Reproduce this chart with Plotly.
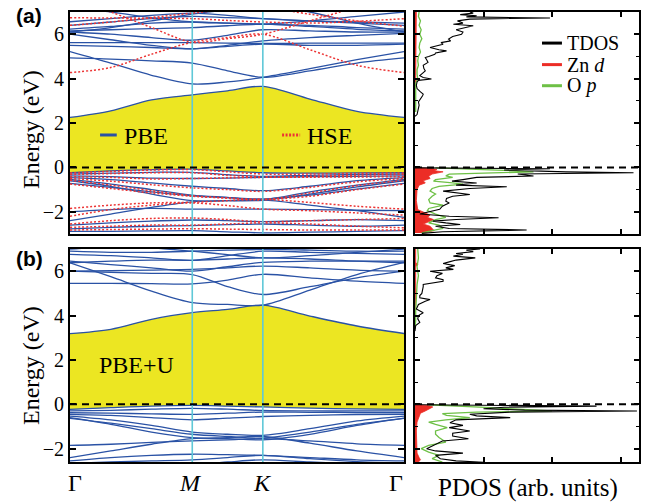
import plotly.graph_objects as go

# ---------------- data ----------------
# k-path distances: Γ, 1/3 ΓM, 2/3 ΓM, M, mid MK, K, 1/3 KΓ, 2/3 KΓ, Γ
kpath = [0.0, 0.1925, 0.3849, 0.5774, 0.7440, 0.9107, 1.1329, 1.3552, 1.5774]
k_M = 0.5774
k_K = 0.9107
k_end = 1.5774

# (a) PBE conduction bands (eV)
pbe_cb_a = [
    [2.25, 2.55, 3.04, 3.27, 3.45, 3.65, 3.08, 2.52, 2.25],
    [5.22, 4.70, 4.15, 3.76, 3.85, 4.06, 4.45, 4.85, 5.22],
    [4.93, 4.88, 4.80, 4.70, 4.35, 4.06, 4.35, 4.70, 4.93],
    [5.50, 5.45, 5.40, 5.34, 5.45, 5.55, 5.50, 5.50, 5.55],
    [5.62, 5.62, 5.62, 5.62, 5.60, 5.58, 5.60, 5.60, 5.60],
    [6.00, 5.75, 5.50, 5.34, 5.50, 5.70, 5.85, 5.95, 6.04],
    [6.10, 6.00, 5.85, 5.73, 5.95, 6.20, 6.15, 6.10, 6.10],
    [6.15, 6.20, 6.25, 6.30, 6.38, 6.45, 6.35, 6.22, 6.15],
    [6.23, 6.35, 6.50, 6.55, 6.50, 6.45, 6.40, 6.30, 6.23],
    [6.40, 6.55, 6.70, 6.80, 6.75, 6.70, 6.60, 6.50, 6.40],
    [6.56, 6.70, 6.85, 6.95, 6.85, 6.70, 6.60, 6.55, 6.50],
    [6.10, 6.30, 6.60, 6.90, 7.10, 7.30, 7.00, 6.50, 6.10],
    [7.20, 7.00, 6.75, 6.55, 6.50, 6.45, 6.60, 6.80, 7.00],
]
# (a) PBE valence bands (eV)
pbe_vb_a = [
    [-0.24, -0.16, -0.10, -0.08, -0.16, -0.24, -0.26, -0.25, -0.24],
    [-0.30, -0.26, -0.22, -0.22, -0.33, -0.40, -0.36, -0.32, -0.30],
    [-0.38, -0.42, -0.48, -0.50, -0.48, -0.45, -0.42, -0.40, -0.38],
    [-0.46, -0.55, -0.70, -0.85, -0.95, -1.05, -0.85, -0.60, -0.46],
    [-0.54, -0.75, -1.00, -1.25, -1.35, -1.45, -1.10, -0.80, -0.54],
    [-0.72, -0.90, -1.10, -1.28, -1.36, -1.42, -1.25, -0.98, -0.72],
    [-0.60, -0.85, -1.20, -1.50, -1.50, -1.48, -1.20, -0.88, -0.60],
    [-2.00, -1.90, -1.85, -1.88, -1.88, -1.88, -1.90, -1.93, -1.95],
    [-2.40, -2.10, -1.80, -1.55, -1.50, -1.46, -1.70, -1.95, -2.25],
    [-2.60, -2.50, -2.42, -2.37, -2.40, -2.44, -2.40, -2.35, -2.40],
    [-2.77, -2.70, -2.65, -2.62, -2.58, -2.55, -2.60, -2.65, -2.60],
    [-2.88, -2.88, -2.86, -2.85, -2.90, -2.95, -2.92, -2.88, -2.85],
]
# (a) HSE conduction bands (eV)
hse_cb_a = [
    [4.27, 4.50, 5.10, 5.64, 5.85, 6.00, 5.30, 4.60, 4.27],
    [7.60, 7.00, 6.30, 5.64, 5.80, 6.00, 6.60, 7.20, 7.60],
    [6.74, 6.73, 6.72, 6.70, 6.62, 6.55, 6.50, 6.58, 6.70],
    [6.40, 6.55, 6.75, 6.95, 7.10, 7.20, 6.90, 6.60, 6.36],
]
# (a) HSE valence bands (eV)
hse_vb_a = [
    [-0.25, -0.18, -0.12, -0.10, -0.20, -0.30, -0.30, -0.27, -0.25],
    [-0.32, -0.28, -0.24, -0.24, -0.36, -0.42, -0.40, -0.35, -0.32],
    [-0.42, -0.45, -0.52, -0.50, -0.47, -0.45, -0.44, -0.43, -0.42],
    [-0.50, -0.62, -0.78, -0.92, -1.00, -1.08, -0.90, -0.65, -0.50],
    [-0.58, -0.80, -1.05, -1.28, -1.38, -1.46, -1.15, -0.82, -0.58],
    [-0.75, -0.95, -1.15, -1.30, -1.38, -1.44, -1.30, -1.00, -0.75],
    [-1.85, -1.70, -1.60, -1.57, -1.50, -1.44, -1.58, -1.75, -1.88],
    [-2.20, -1.90, -1.70, -1.60, -1.72, -1.88, -1.95, -2.05, -2.15],
    [-2.55, -2.40, -2.30, -2.28, -2.35, -2.45, -2.40, -2.35, -2.30],
    [-2.70, -2.65, -2.60, -2.60, -2.55, -2.50, -2.55, -2.65, -2.72],
    [-2.82, -2.80, -2.78, -2.76, -2.78, -2.80, -2.82, -2.82, -2.82],
]
# (b) PBE+U conduction bands (eV)
pbeu_cb_b = [
    [3.19, 3.38, 3.83, 4.13, 4.28, 4.47, 3.98, 3.53, 3.19],
    [6.38, 5.75, 5.10, 4.58, 4.50, 4.47, 5.15, 5.85, 6.40],
    [6.00, 5.95, 5.90, 5.85, 5.30, 4.95, 5.30, 5.70, 6.00],
    [5.45, 5.45, 5.44, 5.43, 5.60, 5.86, 5.70, 5.55, 5.45],
    [6.00, 6.02, 6.05, 6.08, 6.15, 6.23, 6.15, 6.05, 6.00],
    [6.45, 6.30, 6.15, 6.00, 6.20, 6.40, 6.45, 6.45, 6.45],
    [6.38, 6.45, 6.50, 6.49, 6.55, 6.60, 6.55, 6.45, 6.38],
    [6.76, 6.70, 6.60, 6.49, 6.70, 6.90, 6.85, 6.80, 6.76],
    [6.90, 6.85, 6.85, 6.90, 6.95, 6.98, 6.95, 6.90, 6.90],
    [6.99, 7.10, 7.05, 6.90, 6.75, 6.60, 6.70, 6.85, 6.99],
]
# (b) PBE+U valence bands (eV)
pbeu_vb_b = [
    [-0.23, -0.15, -0.08, -0.05, -0.08, -0.12, -0.17, -0.21, -0.23],
    [-0.30, -0.27, -0.22, -0.18, -0.22, -0.28, -0.30, -0.30, -0.30],
    [-0.38, -0.40, -0.43, -0.45, -0.40, -0.35, -0.36, -0.37, -0.38],
    [-0.45, -0.50, -0.60, -0.70, -0.62, -0.55, -0.50, -0.46, -0.45],
    [-0.53, -0.70, -0.95, -1.25, -1.35, -1.40, -1.10, -0.75, -0.53],
    [-0.63, -0.85, -1.10, -1.35, -1.45, -1.52, -1.25, -0.90, -0.63],
    [-0.60, -0.90, -1.25, -1.50, -1.55, -1.60, -1.35, -0.95, -0.62],
    [-1.85, -1.80, -1.72, -1.65, -1.60, -1.55, -1.65, -1.78, -1.85],
    [-2.40, -2.10, -1.80, -1.55, -1.50, -1.45, -1.75, -2.10, -2.40],
    [-2.55, -2.40, -2.30, -2.25, -2.27, -2.30, -2.40, -2.50, -2.55],
    [-2.66, -2.60, -2.55, -2.50, -2.40, -2.30, -2.45, -2.58, -2.66],
    [-2.73, -2.73, -2.73, -2.72, -2.60, -2.50, -2.60, -2.68, -2.73],
]

# (a) densities of states (arb. units) vs energy (eV)
tdos_a_up_E = [7.0, 6.95, 6.88, 6.83, 6.78, 6.73, 6.68, 6.6, 6.5, 6.45, 6.38, 6.3, 6.2, 6.1, 6.0,
               5.9, 5.78, 5.7, 5.62, 5.55, 5.45, 5.4, 5.3, 5.25, 5.15, 5.1, 5.0, 4.95, 4.85, 4.73,
               4.6, 4.45, 4.35, 4.2, 4.13, 4.05, 3.98, 3.92, 3.85, 3.7, 3.55, 3.4, 3.3, 3.23, 3.1,
               2.95, 2.8, 2.6, 2.45, 2.38, 2.3]
tdos_a_up = [0.8, 0.85, 0.66, 0.9, 0.75, 1.97, 0.8, 0.62, 0.7, 0.56, 0.85, 0.75, 0.6, 0.7, 0.68,
             0.55, 0.49, 0.52, 0.38, 0.41, 0.3, 0.22, 0.35, 0.46, 0.3, 0.29, 0.2, 0.15, 0.17, 0.19,
             0.12, 0.13, 0.15, 0.1, 0.07, 0.12, 0.24, 0.05, 0.03, 0.02, 0.03, 0.08, 0.12, 0.11, 0.08,
             0.05, 0.06, 0.05, 0.04, 0.03, 0.0]
tdos_a_lo_E = [-0.02, -0.06, -0.12, -0.2, -0.24, -0.3, -0.39, -0.45, -0.55, -0.62, -0.7, -0.8,
               -0.87, -0.95, -1.07, -1.15, -1.22, -1.3, -1.4, -1.52, -1.6, -1.67, -1.75, -1.89,
               -2.0, -2.1, -2.2, -2.27, -2.35, -2.42, -2.5, -2.57, -2.65, -2.75, -2.82, -2.9, -2.97]
tdos_a_lo = [0.1, 1.97, 1.3, 2.2, 3.19, 1.5, 1.73, 0.9, 0.7, 0.54, 0.9, 0.6,
             1.34, 0.8, 0.41, 0.6, 0.8, 0.55, 0.46, 0.45, 0.5, 0.45, 0.4, 0.36,
             0.2, 0.07, 0.5, 1.22, 0.6, 0.26, 0.45, 0.66, 0.3, 0.5, 1.63, 0.4, 0.1]
op_a_up_E = [7.0, 6.8, 6.6, 6.4, 6.2, 6.0, 5.8, 5.6, 5.4, 5.2, 5.0, 4.8, 4.6, 4.4, 4.2, 4.0, 3.8,
             3.6, 3.4, 3.0, 2.5]
op_a_up = [0.06, 0.05, 0.08, 0.06, 0.09, 0.07, 0.1, 0.07, 0.06, 0.08, 0.05, 0.04, 0.05, 0.03,
           0.03, 0.04, 0.01, 0.01, 0.02, 0.01, 0.01]
op_a_lo_E = [-0.02, -0.06, -0.12, -0.2, -0.25, -0.3, -0.38, -0.45, -0.55, -0.62, -0.7, -0.75,
             -0.85, -0.95, -1.07, -1.2, -1.3, -1.45, -1.6, -1.7, -1.85, -1.95, -2.1, -2.25,
             -2.35, -2.5, -2.6, -2.75, -2.85, -2.95]
op_a_lo = [0.3, 0.8, 1.19, 1.73, 0.9, 0.5, 0.45, 0.55, 0.3, 0.27, 0.55, 0.7,
           0.35, 0.25, 0.22, 0.3, 0.25, 0.2, 0.22, 0.41, 0.2, 0.18, 0.3, 0.45,
           0.3, 0.2, 0.35, 0.41, 0.25, 0.1]
znd_a_up_E = [7.0, 6.0, 5.0, 4.0, 3.5]
znd_a_up = [0.02, 0.02, 0.02, 0.01, 0.0]
znd_a_lo_E = [-0.02, -0.05, -0.1, -0.15, -0.2, -0.25, -0.3, -0.4, -0.5, -0.6, -0.7, -0.8, -0.9,
              -1.0, -1.5, -1.9, -2.05, -2.15, -2.25, -2.35, -2.45, -2.55, -2.65, -2.75, -2.85, -2.95]
znd_a_lo = [0.05, 0.25, 0.32, 0.28, 0.41, 0.3, 0.25, 0.2, 0.22, 0.12, 0.15, 0.06, 0.04,
            0.03, 0.02, 0.04, 0.15, 0.22, 0.18, 0.27, 0.2, 0.12, 0.22, 0.25, 0.28, 0.1]

# (b) densities of states (arb. units) vs energy (eV)
tdos_b_up_E = [7.0, 6.95, 6.88, 6.8, 6.76, 6.68, 6.6, 6.5, 6.42, 6.35, 6.25, 6.15, 6.08, 6.0,
               5.9, 5.8, 5.7, 5.62, 5.55, 5.45, 5.4, 5.3, 5.15, 5.0, 4.9, 4.8, 4.72, 4.65, 4.5,
               4.3, 4.13, 4.0, 3.85, 3.69, 3.55, 3.4, 3.3]
tdos_b_up = [0.95, 0.75, 0.85, 0.6, 0.7, 0.56, 0.88, 0.6, 0.5, 0.41, 0.58, 0.45, 0.56, 0.22,
             0.4, 0.32, 0.3, 0.41, 0.41, 0.2, 0.12, 0.12, 0.11, 0.1, 0.07, 0.07, 0.22, 0.15, 0.05,
             0.02, 0.12, 0.05, 0.04, 0.07, 0.01, 0.01, 0.0]
tdos_b_lo_E = [-0.02, -0.08, -0.13, -0.2, -0.26, -0.3, -0.35, -0.45, -0.52, -0.6, -0.7, -0.83,
               -0.95, -1.05, -1.2, -1.3, -1.43, -1.55, -1.65, -1.8, -2.0, -2.1, -2.2, -2.3,
               -2.45, -2.55, -2.61]
tdos_b_lo = [0.1, 2.65, 1.3, 1.0, 1.6, 3.24, 1.4, 0.8, 0.9, 1.39, 0.6, 0.51,
             0.7, 0.5, 0.8, 0.55, 0.55, 0.78, 0.4, 0.3, 0.17, 0.3, 0.7, 0.3,
             0.37, 0.6, 1.0]
op_b_up_E = [7.0, 6.6, 6.2, 5.8, 5.4, 5.0, 4.6, 4.2, 3.8, 3.4]
op_b_up = [0.04, 0.05, 0.03, 0.05, 0.03, 0.02, 0.02, 0.01, 0.01, 0.0]
op_b_lo_E = [-0.02, -0.1, -0.15, -0.22, -0.3, -0.35, -0.42, -0.5, -0.6, -0.7, -0.8, -0.9,
             -1.05, -1.2, -1.35, -1.5, -1.7, -1.85, -2.0, -2.15, -2.3, -2.45, -2.6]
op_b_lo = [0.2, 0.9, 1.1, 1.5, 2.0, 0.9, 0.4, 0.46, 0.8, 0.45, 0.2, 0.3,
           0.47, 0.3, 0.3, 0.35, 0.45, 0.2, 0.09, 0.2, 0.35, 0.25, 0.4]
znd_b_up_E = [7.0, 6.4, 6.3, 6.2, 5.0, 4.0]
znd_b_up = [0.01, 0.01, 0.04, 0.01, 0.01, 0.0]
znd_b_lo_E = [-0.02, -0.06, -0.12, -0.2, -0.3, -0.4, -0.55, -0.8, -1.2, -1.8, -2.2, -2.4, -2.5, -2.6]
znd_b_lo = [0.05, 0.2, 0.26, 0.2, 0.15, 0.08, 0.06, 0.03, 0.02, 0.02, 0.03, 0.06, 0.08, 0.05]

# ---------------- styles ----------------
SERIF = "Liberation Serif"
SANS = "Liberation Sans"
BLUE = "rgb(42,82,165)"
RED_DOT = "rgb(236,52,52)"
CYAN = "rgb(95,200,215)"
YELLOW = "rgb(236,230,34)"
ZN_RED = "rgb(236,45,38)"
O_GREEN = "rgb(110,192,70)"

fig = go.Figure()


def band_panel(cb, vb, xa, ya, color, dash=None, width=1.3):
    for band in cb + vb:
        fig.add_trace(go.Scatter(
            x=kpath, y=band, mode="lines", xaxis=xa, yaxis=ya,
            line=dict(color=color, width=width, shape="spline", smoothing=0.9, dash=dash),
            showlegend=False, hoverinfo="skip"))


def gap_fill(vb_top, cb_bottom, xa, ya):
    fig.add_trace(go.Scatter(x=kpath, y=vb_top, mode="lines", xaxis=xa, yaxis=ya,
                             line=dict(width=0, shape="spline", smoothing=0.9),
                             showlegend=False, hoverinfo="skip"))
    fig.add_trace(go.Scatter(x=kpath, y=cb_bottom, mode="lines", xaxis=xa, yaxis=ya,
                             line=dict(width=0, shape="spline", smoothing=0.9),
                             fill="tonexty", fillcolor=YELLOW,
                             showlegend=False, hoverinfo="skip"))


# gap shading
gap_fill(pbe_vb_a[0], pbe_cb_a[0], "x", "y")
gap_fill(pbeu_vb_b[0], pbeu_cb_b[0], "x3", "y3")

# bands
band_panel(pbe_cb_a, pbe_vb_a, "x", "y", BLUE)
band_panel(hse_cb_a, hse_vb_a, "x", "y", RED_DOT, dash="2px,2px", width=1.5)
band_panel(pbeu_cb_b, pbeu_vb_b, "x3", "y3", BLUE)


def dos_panel(xa, ya, znd, op, tdos):
    for E, v in znd:
        fig.add_trace(go.Scatter(x=v, y=E, mode="lines", xaxis=xa, yaxis=ya,
                                 line=dict(color=ZN_RED, width=0.8), fill="tozerox",
                                 fillcolor=ZN_RED, showlegend=False, hoverinfo="skip"))
    for E, v in op:
        fig.add_trace(go.Scatter(x=v, y=E, mode="lines", xaxis=xa, yaxis=ya,
                                 line=dict(color=O_GREEN, width=1.3),
                                 showlegend=False, hoverinfo="skip"))
    for E, v in tdos:
        fig.add_trace(go.Scatter(x=v, y=E, mode="lines", xaxis=xa, yaxis=ya,
                                 line=dict(color="black", width=1.1),
                                 showlegend=False, hoverinfo="skip"))


dos_panel("x2", "y2",
          [(znd_a_up_E, znd_a_up), (znd_a_lo_E, znd_a_lo)],
          [(op_a_up_E, op_a_up), (op_a_lo_E, op_a_lo)],
          [(tdos_a_up_E, tdos_a_up), (tdos_a_lo_E, tdos_a_lo)])
dos_panel("x4", "y4",
          [(znd_b_up_E, znd_b_up), (znd_b_lo_E, znd_b_lo)],
          [(op_b_up_E, op_b_up), (op_b_lo_E, op_b_lo)],
          [(tdos_b_up_E, tdos_b_up), (tdos_b_lo_E, tdos_b_lo)])

# ---------------- axes ----------------
W, H = 651, 504
band_x = [70 / W, 404 / W]
dos_x = [415 / W, 639 / W]
dom_a = [1 - 234 / H, 1 - 12 / H]
dom_b = [1 - 462 / H, 1 - 249 / H]

frame = dict(showline=True, linecolor="black", linewidth=2, mirror="ticks",
             showgrid=False, zeroline=False)
ytick_band = dict(tickvals=[-2, 0, 2, 4, 6], ticks="inside", ticklen=6, tickwidth=2,
                  tickcolor="black", tickfont=dict(family=SERIF, size=20, color="black"))
ytick_dos = dict(tickvals=[-2, 0, 2, 4, 6], ticks="inside", ticklen=5, tickwidth=1.5,
                 tickcolor="black", showticklabels=False,
                 minor=dict(tickvals=[-1, 1, 3, 5], ticks="inside", ticklen=3,
                            tickwidth=1, tickcolor="black"))
xtick_dos = dict(tickvals=[1, 2, 3], ticks="inside", ticklen=5, tickwidth=1.5,
                 tickcolor="black", showticklabels=False)

fig.update_layout(
    width=W, height=H, margin=dict(l=0, r=0, t=0, b=0),
    font=dict(family=SERIF, color="black"),
    paper_bgcolor="white", plot_bgcolor="white", showlegend=False,
    xaxis=dict(domain=band_x, range=[0, k_end], anchor="y", showticklabels=False, ticks="", **frame),
    yaxis=dict(domain=dom_a, range=[-3, 7], anchor="x", **ytick_band, **frame),
    xaxis2=dict(domain=dos_x, range=[0, 3.27], anchor="y2", **xtick_dos, **frame),
    yaxis2=dict(domain=dom_a, range=[-3, 7], anchor="x2", **ytick_dos, **frame),
    xaxis3=dict(domain=band_x, range=[0, k_end], anchor="y3", showticklabels=False, ticks="", **frame),
    yaxis3=dict(domain=dom_b, range=[-2.6, 7], anchor="x3", **ytick_band, **frame),
    xaxis4=dict(domain=dos_x, range=[0, 3.27], anchor="y4", **xtick_dos, **frame),
    yaxis4=dict(domain=dom_b, range=[-2.6, 7], anchor="x4", **ytick_dos, **frame),
)

# ---------------- shapes ----------------
shapes = []
for xa, ya in (("x", "y"), ("x3", "y3")):
    for kv in (k_M, k_K):
        shapes.append(dict(type="line", xref=xa, yref=f"{ya} domain", x0=kv, x1=kv, y0=0, y1=1,
                           line=dict(color=CYAN, width=1.6), layer="above"))
for xa, ya in (("x", "y"), ("x2", "y2"), ("x3", "y3"), ("x4", "y4")):
    shapes.append(dict(type="line", xref=f"{xa} domain", yref=ya, x0=0, x1=1, y0=0, y1=0,
                       line=dict(color="black", width=2, dash="7px,5px"), layer="above"))

# legend swatches
shapes.append(dict(type="line", xref="x domain", yref="y domain", x0=0.09, x1=0.14, y0=0.446, y1=0.446,
                   line=dict(color=BLUE, width=3)))
shapes.append(dict(type="line", xref="x domain", yref="y domain", x0=0.635, x1=0.689, y0=0.446, y1=0.446,
                   line=dict(color=RED_DOT, width=3, dash="2px,1.5px")))
for yy, col in ((0.86, "black"), (0.763, ZN_RED), (0.668, O_GREEN)):
    shapes.append(dict(type="line", xref="x2 domain", yref="y2 domain", x0=0.567, x1=0.656, y0=yy, y1=yy,
                       line=dict(color=col, width=3)))
fig.update_layout(shapes=shapes)

# ---------------- text ----------------
ann = []


def txt(text, x, y, xref="paper", yref="paper", size=24, family=SERIF, xanchor="center",
        yanchor="middle", angle=0, xshift=0):
    ann.append(dict(text=text, x=x, y=y, xref=xref, yref=yref, showarrow=False,
                    font=dict(family=family, size=size, color="black"),
                    xanchor=xanchor, yanchor=yanchor, textangle=angle, xshift=xshift))


txt("<b>(a)</b>", 29 / W, 1 - 15 / H, size=21, family=SANS)
txt("<b>(b)</b>", 29 / W, 1 - 258 / H, size=21, family=SANS)
txt("Energy (eV)", 31 / W, 1 - 130 / H, size=24, angle=-90)
txt("Energy (eV)", 31 / W, 1 - 366 / H, size=24, angle=-90)
txt("PBE", 0.157, 0.44, xref="x domain", yref="y domain", xanchor="left")
txt("HSE", 0.703, 0.44, xref="x domain", yref="y domain", xanchor="left")
txt("PBE+U", 0.08, 0.455, xref="x3 domain", yref="y3 domain", xanchor="left")
txt("TDOS", 0.67, 0.86, xref="x2 domain", yref="y2 domain", xanchor="left", size=20)
txt("Zn <i>d</i>", 0.67, 0.763, xref="x2 domain", yref="y2 domain", xanchor="left", size=20)
txt("O <i>p</i>", 0.67, 0.668, xref="x2 domain", yref="y2 domain", xanchor="left", size=20)
for kv, lab, sh in ((0.0, "Γ", 5), (k_M, "<i>M</i>", -2), (k_K, "<i>K</i>", 0), (k_end, "Γ", -8)):
    txt(lab, kv, 1 - 483 / H, xref="x3", size=24, xshift=sh)
txt("PDOS (arb. units)", 528 / W, 1 - 488 / H, size=25)
fig.update_layout(annotations=ann)

fig.write_html("out.html")
